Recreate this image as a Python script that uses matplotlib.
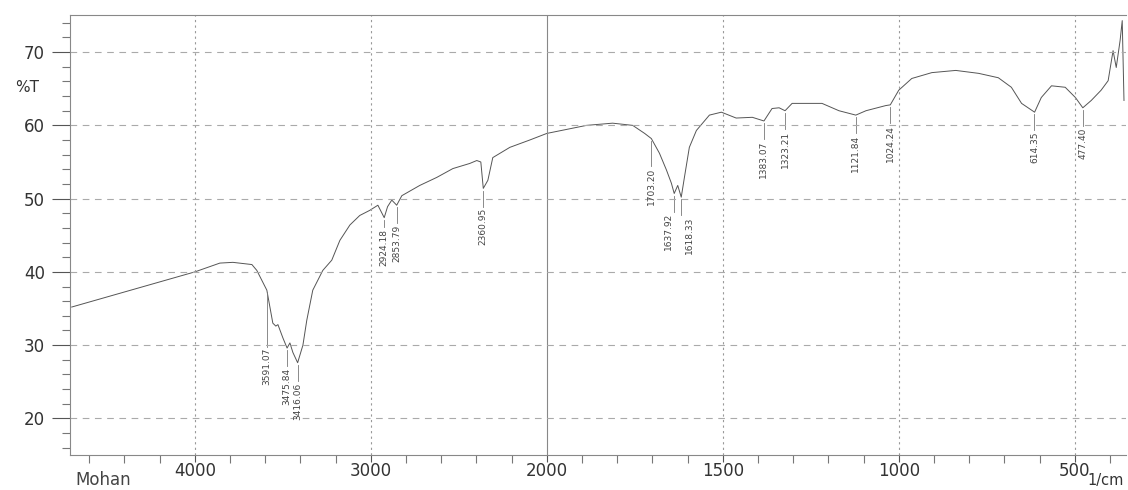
import numpy as np
import matplotlib
matplotlib.use('Agg')
import matplotlib.pyplot as plt
import matplotlib.transforms as mtransforms
from matplotlib.ticker import FixedLocator, NullFormatter

# Espectro FTIR (%T frente a numero de onda)
wavenumber = [4700, 4000, 3858, 3784, 3676, 3648, 3591, 3557, 3540, 3528, 3500,
              3476, 3460, 3443, 3416, 3386, 3364, 3330, 3273, 3222, 3176, 3119,
              3063, 3006, 2960, 2924, 2905, 2881, 2853, 2824, 2722, 2625, 2534,
              2438, 2398, 2375, 2361, 2335, 2307, 2210, 2097, 2000, 1887, 1813,
              1756, 1722, 1703, 1680, 1660, 1646, 1638, 1628, 1618, 1609, 1595,
              1575, 1538, 1504, 1462, 1416, 1383, 1360, 1340, 1323, 1303, 1218,
              1170, 1122, 1093, 1037, 1024, 1000, 963, 906, 838, 773, 717, 680,
              651, 614, 595, 566, 527, 498, 477, 453, 425, 405, 391, 382, 371,
              365, 360]
transmittance = [35.2, 40.0, 41.2, 41.3, 41.0, 40.2, 37.5, 33.0, 32.6, 32.8, 31.0,
                 29.6, 30.3, 29.0, 27.6, 30.0, 33.4, 37.5, 40.2, 41.6, 44.3, 46.4,
                 47.7, 48.4, 49.1, 47.4, 48.9, 49.8, 49.1, 50.4, 51.8, 52.9, 54.1,
                 54.8, 55.2, 55.0, 51.4, 52.5, 55.6, 57.0, 58.0, 58.9, 60.0, 60.3,
                 60.0, 58.9, 58.2, 56.2, 53.9, 52.1, 50.7, 51.8, 50.2, 52.9, 57.0,
                 59.3, 61.4, 61.8, 61.0, 61.1, 60.6, 62.3, 62.4, 62.0, 63.0, 63.0,
                 62.0, 61.4, 62.0, 62.7, 62.8, 64.8, 66.4, 67.2, 67.5, 67.1, 66.5, 65.2,
                 63.0, 61.8, 63.8, 65.4, 65.2, 63.8, 62.4, 63.4, 64.8, 66.1, 70.2, 67.9, 71.6,
                 74.3, 63.4]

peak_labels = ['3591.07', '3475.84', '3416.06', '2924.18', '2853.79', '2360.95',
               '1703.20', '1637.92', '1618.33', '1383.07', '1323.21', '1121.84',
               '1024.24', '614.35', '477.40']

x_major = [4000, 3000, 2000, 1500, 1000, 500]
y_major = [20, 30, 40, 50, 60, 70]


# eje x con doble escala (4000-2000 comprimido, 2000-400 expandido)
def fwd(w):
    w = np.asarray(w, dtype=float)
    return np.where(w > 2000, 4 + (w - 2000) / 1000.0, w / 500.0)


def inv(u):
    u = np.asarray(u, dtype=float)
    return np.where(u > 4, 2000 + (u - 4) * 1000.0, u * 500.0)


grey = '#555555'
fig = plt.figure(figsize=(11.28, 4.9), dpi=100)
ax = fig.add_axes([0.062, 0.0714, 0.936, 0.897])
ax.set_xscale('function', functions=(fwd, inv))

ax.plot(wavenumber, transmittance, color='#555555', linewidth=0.7)

ax.set_xlim(4710, 355)
ax.set_ylim(15, 75)

# etiquetas de picos
wn_sorted = np.array(wavenumber[::-1], dtype=float)
t_sorted = np.array(transmittance[::-1], dtype=float)
extra_drop = {'3591.07': 5.2, '1703.20': 1.3, '2924.18': -1.2}
# desplazamiento horizontal del texto (en puntos) para picos muy juntos
shift_pts = {'1637.92': -4, '1618.33': 6}
for lab in peak_labels:
    w = float(lab)
    t = np.interp(w, wn_sorted, t_sorted)
    top = t - 2.7 - extra_drop.get(lab, 0)
    ax.plot([w, w], [t - 0.3, top + 0.2], color='#777777', linewidth=0.6)
    tr = mtransforms.offset_copy(ax.transData, fig=fig, x=shift_pts.get(lab, 0), y=0, units='points')
    ax.text(w, top, lab, rotation=90, ha='center', va='top', fontsize=6.5,
            color='#444444', transform=tr)

# rejilla
for w in x_major:
    if w == 2000:
        ax.axvline(w, color='#888888', linewidth=0.8)
    else:
        ax.axvline(w, color='#999999', linewidth=0.8, linestyle=(0, (2, 3)))
for v in y_major:
    ax.axhline(v, color='#aaaaaa', linewidth=0.8, linestyle=(0, (6, 5)))

minor_x = list(range(4600, 2000, -200)) + list(range(1900, 300, -100))
ax.xaxis.set_major_locator(FixedLocator(x_major))
ax.xaxis.set_minor_locator(FixedLocator(minor_x))
ax.xaxis.set_minor_formatter(NullFormatter())
ax.set_xticklabels([str(v) for v in x_major])
ax.yaxis.set_major_locator(FixedLocator(y_major))
ax.yaxis.set_minor_locator(FixedLocator(list(range(16, 76, 2))))

ax.tick_params(axis='both', which='major', labelsize=12, colors=grey, labelcolor='#333333')
ax.tick_params(axis='x', which='major', length=5, width=0.8, pad=0)
ax.tick_params(axis='y', which='major', length=13, width=0.8, pad=5)
ax.tick_params(axis='both', which='minor', length=6, width=0.8, colors='#777777')

for s in ['left', 'bottom', 'top']:
    ax.spines[s].set_color('#888888')
    ax.spines[s].set_linewidth(0.8)
ax.spines['right'].set_visible(False)

fig.text(27 / 1128, 1 - 87 / 490, '%T', fontsize=11, color='#333333', ha='center', va='center')
fig.text(75 / 1128, 1 - 489 / 490, 'Mohan', fontsize=12, color='#444444', ha='left', va='bottom')
fig.text(1124 / 1128, 1 - 488 / 490, '1/cm', fontsize=10.5, color='#333333', ha='right', va='bottom')

fig.savefig('out.png', dpi=100)
